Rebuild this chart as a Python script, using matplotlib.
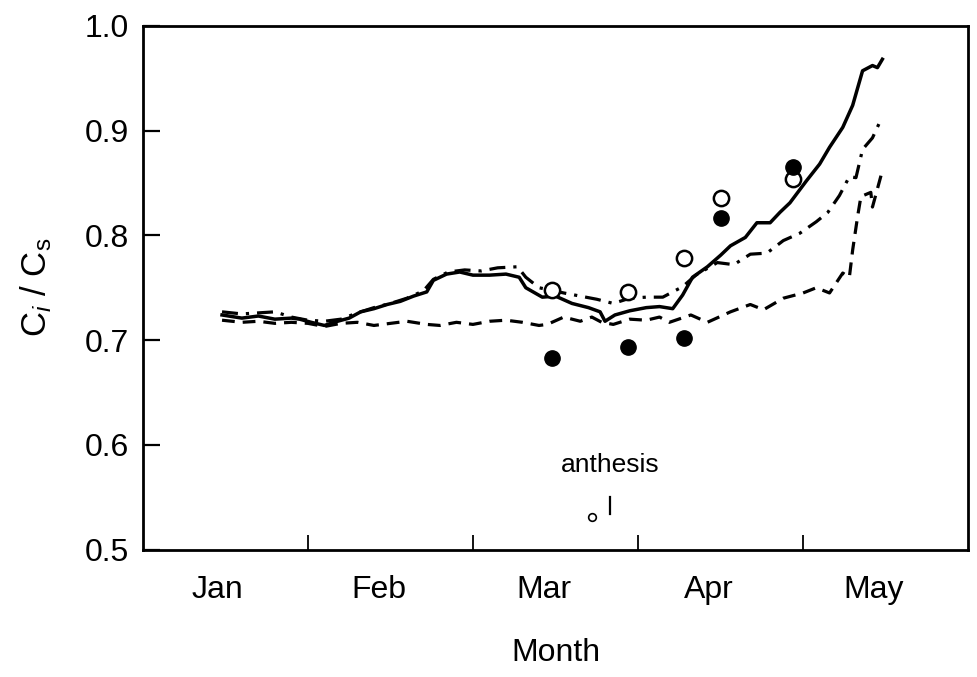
import matplotlib
matplotlib.use("Agg")
import matplotlib.pyplot as plt

plt.rcParams["font.family"] = ["Liberation Sans", "DejaVu Sans"]
plt.rcParams["mathtext.fontset"] = "custom"
plt.rcParams["mathtext.rm"] = "Liberation Sans"
plt.rcParams["mathtext.it"] = "Liberation Sans:italic"

# time axis in months since 1 Jan
solid_t = [0.48, 0.60, 0.70, 0.80, 0.90, 0.95, 1.02, 1.10, 1.18, 1.25, 1.32, 1.40,
           1.48, 1.56, 1.64, 1.72, 1.76, 1.84, 1.92, 2.00, 2.10, 2.20, 2.28, 2.32,
           2.42, 2.50, 2.60, 2.70, 2.77, 2.80, 2.86, 2.95, 3.05, 3.13, 3.21, 3.27,
           3.33, 3.42, 3.50, 3.56, 3.65, 3.72, 3.80, 3.86, 3.92, 4.02, 4.10, 4.16,
           4.24, 4.30, 4.36, 4.42, 4.45, 4.48]
solid_v = [0.724, 0.721, 0.723, 0.720, 0.721, 0.720, 0.717, 0.714, 0.718, 0.721,
           0.727, 0.730, 0.734, 0.737, 0.742, 0.746, 0.757, 0.763, 0.765, 0.762,
           0.762, 0.763, 0.760, 0.750, 0.741, 0.742, 0.735, 0.731, 0.727, 0.718,
           0.724, 0.728, 0.731, 0.732, 0.730, 0.743, 0.760, 0.770, 0.781, 0.790,
           0.798, 0.812, 0.812, 0.822, 0.831, 0.852, 0.868, 0.884, 0.903, 0.924,
           0.957, 0.962, 0.960, 0.968]

dashdot_t = [0.48, 0.60, 0.70, 0.80, 0.90, 1.00, 1.10, 1.20, 1.30, 1.40, 1.50, 1.60,
             1.70, 1.76, 1.85, 1.95, 2.05, 2.15, 2.27, 2.32, 2.40, 2.55, 2.65, 2.75,
             2.85, 2.95, 3.05, 3.15, 3.27, 3.35, 3.48, 3.58, 3.68, 3.78, 3.88, 3.98,
             4.08, 4.15, 4.22, 4.28, 4.32, 4.36, 4.42, 4.47]
dashdot_v = [0.727, 0.725, 0.726, 0.727, 0.722, 0.719, 0.718, 0.720, 0.726, 0.731,
             0.735, 0.740, 0.747, 0.758, 0.765, 0.767, 0.766, 0.769, 0.770, 0.760,
             0.750, 0.745, 0.742, 0.739, 0.735, 0.740, 0.741, 0.741, 0.751, 0.762,
             0.774, 0.772, 0.782, 0.783, 0.795, 0.802, 0.813, 0.822, 0.838, 0.856,
             0.855, 0.882, 0.893, 0.910]

dashed_t = [0.48, 0.60, 0.70, 0.80, 0.90, 1.00, 1.10, 1.20, 1.30, 1.40, 1.50, 1.60,
            1.72, 1.80, 1.90, 2.00, 2.10, 2.20, 2.30, 2.40, 2.45, 2.55, 2.65, 2.72,
            2.78, 2.85, 2.95, 3.05, 3.13, 3.19, 3.32, 3.42, 3.56, 3.68, 3.76, 3.88,
            4.00, 4.08, 4.16, 4.24, 4.28, 4.30, 4.33, 4.35, 4.41, 4.42, 4.47, 4.48]
dashed_v = [0.719, 0.717, 0.718, 0.716, 0.717, 0.716, 0.713, 0.716, 0.717, 0.714,
            0.716, 0.718, 0.715, 0.714, 0.717, 0.715, 0.718, 0.719, 0.717, 0.714,
            0.715, 0.722, 0.718, 0.722, 0.717, 0.715, 0.720, 0.719, 0.722, 0.717,
            0.724, 0.717, 0.727, 0.734, 0.729, 0.740, 0.745, 0.750, 0.745, 0.764,
            0.760, 0.786, 0.818, 0.837, 0.841, 0.827, 0.856, 0.863]

# measured points
obs_t = [2.48, 2.94, 3.28, 3.50, 3.94]
open_v = [0.748, 0.746, 0.778, 0.836, 0.854]
filled_v = [0.683, 0.693, 0.702, 0.817, 0.865]

months = ["Jan", "Feb", "Mar", "Apr", "May"]
month_pos = [0.45, 1.43, 2.43, 3.43, 4.43]
month_ticks = [1, 2, 3, 4]
y_ticks = [0.5, 0.6, 0.7, 0.8, 0.9, 1.0]

anthesis_t = 2.83
anthesis_circle_t = 2.72

fig = plt.figure(figsize=(9.78, 6.77), dpi=100)
ax = fig.add_axes([0.146, 0.188, 0.844, 0.774])

ax.plot(solid_t, solid_v, color="black", lw=2.5, solid_joinstyle="round")
ax.plot(dashdot_t, dashdot_v, color="black", lw=2.3, dashes=(5, 2.5, 1, 2.5))
ax.plot(dashed_t, dashed_v, color="black", lw=2.3, dashes=(4, 2.5))

ax.plot(obs_t, open_v, "o", ms=11, mfc="white", mec="black", mew=1.8)
ax.plot(obs_t, filled_v, "o", ms=11, mfc="black", mec="black")

# anthesis marker
ax.text(anthesis_t, 0.581, "anthesis", ha="center", va="center", fontsize=19)
ax.plot([anthesis_circle_t], [0.531], "o", ms=5.5, mfc="white", mec="black", mew=1.2)
ax.plot([anthesis_t, anthesis_t], [0.534, 0.550], color="black", lw=1.6)

ax.set_xlim(0, 5)
ax.set_ylim(0.5, 1.0)

ax.set_yticks(y_ticks)
ax.set_yticklabels([f"{v:.1f}" for v in y_ticks])
ax.set_xticks(month_ticks)
ax.set_xticklabels([])
ax.set_xticks(month_pos, minor=True)
ax.set_xticklabels(months, minor=True)

ax.tick_params(axis="y", direction="in", length=12, width=1.6, labelsize=23, pad=10)
ax.tick_params(axis="x", which="major", direction="in", length=11, width=1.3)
ax.tick_params(axis="x", which="minor", length=0, labelsize=23, pad=18)

for s in ax.spines.values():
    s.set_linewidth(2.0)

ax.set_xlabel("Month", fontsize=23, labelpad=24)
ax.set_ylabel(r"C$_i$ / C$_\mathrm{s}$", fontsize=25, labelpad=22)

fig.savefig("out.png", dpi=100)
